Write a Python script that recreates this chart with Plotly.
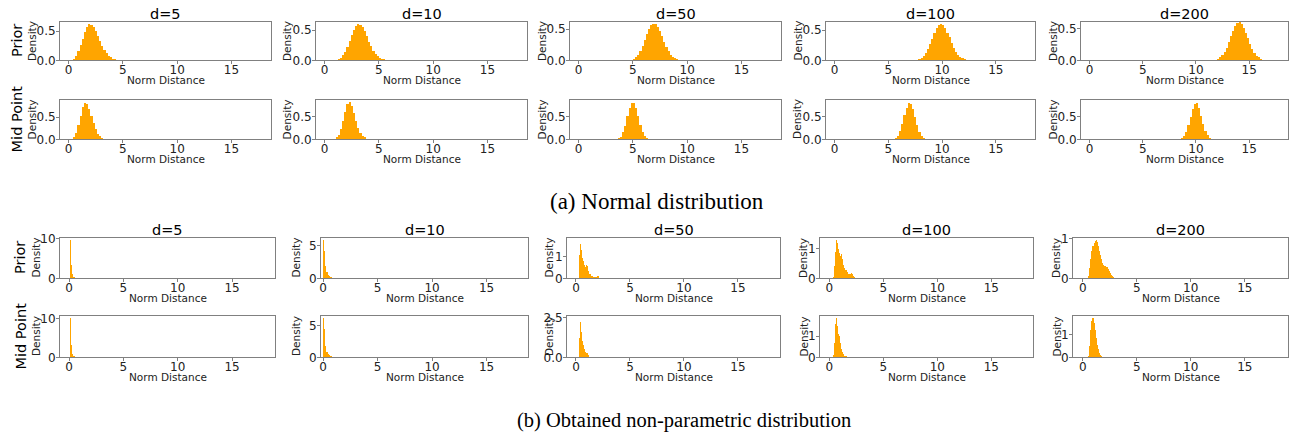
import numpy as np
import plotly.graph_objects as go

W, H = 1290, 435
ORANGE = "#FFA500"
SPINE = "#808080"
TXT = "#222222"

dims = ["d=5", "d=10", "d=50", "d=100", "d=200"]
row_labels = ["Prior", "Mid Point"]
captions = ["(a) Normal distribution", "(b) Obtained non-parametric distribution"]
caption_sizes = [23, 20.5]
x_tick_vals = [0, 5, 10, 15]

# ---------------- (a) Normal distribution : bin width 0.2 ----------------
normal_bin = 0.2
normal_prior_start = [0.4, 1.2, 4.6, 7.4, 11.6]
normal_prior_d5 = [0.03, 0.08, 0.16, 0.26, 0.37, 0.49, 0.57, 0.62, 0.61, 0.57, 0.50, 0.42,
                   0.33, 0.25, 0.18, 0.12, 0.08, 0.05, 0.03, 0.02, 0.01, 0.006, 0.003]
normal_prior_d10 = [0.02, 0.04, 0.08, 0.14, 0.22, 0.32, 0.42, 0.51, 0.57, 0.60, 0.59, 0.55,
                    0.48, 0.40, 0.31, 0.23, 0.16, 0.11, 0.07, 0.04, 0.025, 0.014, 0.007]
normal_prior_d50 = [0.005, 0.012, 0.025, 0.05, 0.09, 0.15, 0.23, 0.32, 0.42, 0.50, 0.56, 0.59,
                    0.58, 0.54, 0.47, 0.39, 0.30, 0.22, 0.15, 0.09, 0.055, 0.03, 0.015, 0.007]
normal_prior_d100 = [0.005, 0.01, 0.02, 0.04, 0.07, 0.12, 0.19, 0.27, 0.36, 0.45, 0.53, 0.58,
                     0.60, 0.58, 0.53, 0.46, 0.38, 0.29, 0.21, 0.14, 0.09, 0.055, 0.03, 0.015, 0.007]
normal_prior_d200 = [0.005, 0.01, 0.025, 0.045, 0.08, 0.13, 0.20, 0.29, 0.38, 0.47, 0.54, 0.59,
                     0.60, 0.57, 0.51, 0.43, 0.35, 0.26, 0.18, 0.12, 0.075, 0.045, 0.025, 0.012, 0.005]

normal_mid_start = [0.2, 0.8, 3.4, 5.4, 8.4]
normal_mid_d5 = [0.01, 0.05, 0.15, 0.32, 0.53, 0.72, 0.83, 0.80, 0.68, 0.52, 0.36, 0.23,
                 0.13, 0.07, 0.035, 0.015]
normal_mid_d10 = [0.01, 0.04, 0.10, 0.22, 0.40, 0.60, 0.77, 0.82, 0.74, 0.58, 0.41, 0.26,
                  0.15, 0.08, 0.04, 0.015]
normal_mid_d50 = [0.005, 0.02, 0.06, 0.15, 0.30, 0.50, 0.68, 0.80, 0.80, 0.68, 0.50, 0.31,
                  0.17, 0.08, 0.035, 0.012]
normal_mid_d100 = [0.01, 0.03, 0.08, 0.18, 0.34, 0.53, 0.70, 0.81, 0.79, 0.67, 0.49, 0.31,
                   0.17, 0.08, 0.035, 0.012]
normal_mid_d200 = [0.008, 0.025, 0.07, 0.16, 0.31, 0.50, 0.68, 0.80, 0.81, 0.70, 0.52, 0.34,
                   0.19, 0.09, 0.04, 0.015]

normal_prior_ymax = [0.66, 0.64, 0.62, 0.64, 0.61]
normal_mid_ymax = [0.90, 0.88, 0.87, 0.88, 0.89]
normal_ytick_vals = [0.0, 0.5]
normal_ytick_text = ["0.0", "0.5"]

# ---------------- (b) Non-parametric distribution ----------------
np_bins = [0.1, 0.1, 0.05, 0.1, 0.1]
np_prior_start = [0.05, 0.0, 0.30, 0.3, 0.5]
np_prior_d5 = [9.8, 3.4, 1.0, 0.4, 0.25, 0.15, 0.1, 0.06, 0.04, 0.02]
np_prior_d10 = [5.9, 4.2, 1.9, 0.9, 0.55, 0.35, 0.25, 0.17, 0.12, 0.08, 0.05, 0.03, 0.02]
np_prior_d50 = [1.1, 1.8, 1.6, 1.45, 1.3, 1.1, 0.95, 0.8, 0.7, 0.6, 0.55, 0.5, 0.55, 0.62,
                0.68, 0.55, 0.45, 0.35, 0.28, 0.22, 0.18, 0.15, 0.12, 0.1, 0.09, 0.08, 0.07,
                0.06, 0.06, 0.05, 0.05, 0.05, 0.06, 0.1, 0.15, 0.1, 0.05, 0.02]
np_prior_d100 = [0.05, 0.4, 0.9, 1.3, 1.2, 1.0, 0.85, 0.75, 0.82, 0.65, 0.45, 0.35, 0.27,
                 0.2, 0.15, 0.13, 0.15, 0.18, 0.14, 0.08, 0.04, 0.02, 0.01]
np_prior_d200 = [0.05, 0.25, 0.5, 0.7, 0.82, 0.9, 0.95, 0.98, 0.93, 0.82, 0.7, 0.58, 0.48,
                 0.4, 0.33, 0.3, 0.3, 0.28, 0.24, 0.18, 0.13, 0.09, 0.06, 0.04, 0.02, 0.01]

np_mid_start = [0.05, 0.0, 0.30, 0.3, 0.5]
np_mid_d5 = [10.3, 3.2, 0.9, 0.4, 0.25, 0.15, 0.1, 0.06, 0.04, 0.02]
np_mid_d10 = [6.2, 4.5, 1.8, 0.8, 0.5, 0.32, 0.22, 0.15, 0.1, 0.07, 0.04, 0.02]
np_mid_d50 = [1.2, 2.45, 2.2, 1.9, 1.6, 1.3, 1.0, 0.8, 0.6, 0.5, 0.4, 0.35, 0.3, 0.3, 0.32,
              0.28, 0.2, 0.12, 0.08, 0.05, 0.03, 0.02, 0.01]
np_mid_d100 = [0.1, 0.7, 1.6, 1.88, 1.5, 1.1, 1.0, 0.7, 0.4, 0.25, 0.15, 0.08, 0.04, 0.02]
np_mid_d200 = [0.05, 0.5, 1.2, 1.6, 1.72, 1.5, 1.2, 0.85, 0.55, 0.35, 0.2, 0.1, 0.05, 0.02]

np_prior_ymax = [10.3, 6.2, 1.88, 1.37, 1.03]
np_mid_ymax = [10.8, 6.6, 2.6, 1.98, 1.81]
np_prior_ytick_vals = [[0, 10], [0, 5], [0, 1], [0, 1], [0, 1]]
np_prior_ytick_text = [["0", "10"], ["0", "5"], ["0", "1"], ["0", "1"], ["0", "1"]]
np_mid_ytick_vals = [[0, 10], [0, 5], [0.0, 2.5], [0, 1], [0, 1]]
np_mid_ytick_text = [["0", "10"], ["0", "5"], ["0.0", "2.5"], ["0", "1"], ["0", "1"]]

# ---------------- layout geometry (pixels) ----------------
top_cols = [(60, 271), (316, 527), (570, 781), (826, 1035), (1081, 1288)]
bot_cols = [(60, 275), (321, 528), (567, 780), (820, 1033), (1073, 1288)]
top_rows = [(21.7, 60.3), (99.5, 139.3)]
bot_rows = [(237.7, 278.3), (315.7, 357.3)]
top_xrange = [(-0.8, 18.65)] * 5
bot_xrange = [(-0.83, 18.95), (-0.2, 18.8), (-0.83, 18.9), (-0.86, 18.86), (-0.9, 19.0)]
top_density_off = [28, 29, 28, 28.5, 28]
bot_density_off = [24.5, 25.5, 18.5, 17, 17]

blocks = [
    dict(cols=top_cols, rows=top_rows, xr=top_xrange, doff=[top_density_off, top_density_off],
         data=[[normal_prior_d5, normal_prior_d10, normal_prior_d50, normal_prior_d100, normal_prior_d200],
               [normal_mid_d5, normal_mid_d10, normal_mid_d50, normal_mid_d100, normal_mid_d200]],
         start=[normal_prior_start, normal_mid_start], bins=[normal_bin] * 5,
         ymax=[normal_prior_ymax, normal_mid_ymax],
         tv=[[normal_ytick_vals] * 5, [normal_ytick_vals] * 5],
         tt=[[normal_ytick_text] * 5, [normal_ytick_text] * 5],
         title_y=14.5, row_x=17, caption_xy=(657, 202)),
    dict(cols=bot_cols, rows=bot_rows, xr=bot_xrange, doff=[bot_density_off, bot_density_off],
         data=[[np_prior_d5, np_prior_d10, np_prior_d50, np_prior_d100, np_prior_d200],
               [np_mid_d5, np_mid_d10, np_mid_d50, np_mid_d100, np_mid_d200]],
         start=[np_prior_start, np_mid_start], bins=np_bins,
         ymax=[np_prior_ymax, np_mid_ymax],
         tv=[np_prior_ytick_vals, np_mid_ytick_vals],
         tt=[np_prior_ytick_text, np_mid_ytick_text],
         title_y=229.5, row_x=20, caption_xy=(684, 420)),
]

FONT = "DejaVu Sans"
fig = go.Figure()
lay = {}
ann = []
k = 0
for bi, b in enumerate(blocks):
    for r in range(2):
        y0, y1 = b["rows"][r]
        for c in range(5):
            k += 1
            x0, x1 = b["cols"][c]
            w = b["bins"][c]
            hs = np.array(b["data"][r][c], dtype=float)
            xs = b["start"][r][c] + w * (np.arange(len(hs)) + 0.5)
            xn = "x" if k == 1 else f"x{k}"
            yn = "y" if k == 1 else f"y{k}"
            fig.add_trace(go.Bar(x=xs, y=hs, width=w, marker=dict(color=ORANGE, line=dict(width=0)),
                                 xaxis=xn, yaxis=yn, showlegend=False, hoverinfo="skip"))
            ax_common = dict(showline=True, linecolor=SPINE, linewidth=1, mirror=True,
                             showgrid=False, zeroline=False, ticks="outside", ticklen=3,
                             tickcolor=SPINE, tickwidth=1, automargin=False,
                             tickfont=dict(family=FONT, size=12, color=TXT))
            lay["xaxis" if k == 1 else f"xaxis{k}"] = dict(
                domain=[x0 / W, x1 / W], range=list(b["xr"][c]), anchor=yn,
                tickvals=x_tick_vals, ticktext=[str(v) for v in x_tick_vals],
                ticklabelstandoff=-5, **ax_common)
            lay["yaxis" if k == 1 else f"yaxis{k}"] = dict(
                domain=[1 - y1 / H, 1 - y0 / H], range=[0, b["ymax"][r][c]], anchor=xn,
                tickvals=b["tv"][r][c], ticktext=b["tt"][r][c],
                ticklabelstandoff=-2, **ax_common)
            ann.append(dict(text="Density", x=(x0 - b["doff"][r][c]) / W, y=1 - (y0 + y1) / 2 / H,
                            xref="paper", yref="paper", showarrow=False, textangle=-90,
                            xanchor="center", yanchor="middle",
                            font=dict(family=FONT, size=10.5, color=TXT)))
            ann.append(dict(text="Norm Distance", x=(x0 + x1) / 2 / W, y=1 - (y1 + 19.5) / H,
                            xref="paper", yref="paper", showarrow=False,
                            xanchor="center", yanchor="middle",
                            font=dict(family=FONT, size=10.5, color=TXT)))
            if r == 0:
                ann.append(dict(text=dims[c], x=(x0 + x1) / 2 / W, y=1 - b["title_y"] / H,
                                xref="paper", yref="paper", showarrow=False,
                                xanchor="center", yanchor="middle",
                                font=dict(family=FONT, size=14.5, color="#000000")))
        ann.append(dict(text=row_labels[r], x=b["row_x"] / W, y=1 - (y0 + y1) / 2 / H,
                        xref="paper", yref="paper", showarrow=False, textangle=-90,
                        xanchor="center", yanchor="middle",
                        font=dict(family=FONT, size=14.5, color="#000000")))
    cx, cy = b["caption_xy"]
    ann.append(dict(text=captions[bi], x=cx / W, y=1 - cy / H, xref="paper", yref="paper",
                    showarrow=False, xanchor="center", yanchor="middle",
                    font=dict(family="Liberation Serif", size=caption_sizes[bi], color="#000000")))

fig.update_layout(**lay)
fig.update_layout(template="none", width=W, height=H, margin=dict(l=0, r=0, t=0, b=0, pad=0),
                  paper_bgcolor="white", plot_bgcolor="white", bargap=0,
                  annotations=ann, font=dict(family=FONT))
fig.write_html("out.html", config={"displayModeBar": False, "staticPlot": True},
               post_script="document.body.style.margin='0';document.body.style.padding='0';")
